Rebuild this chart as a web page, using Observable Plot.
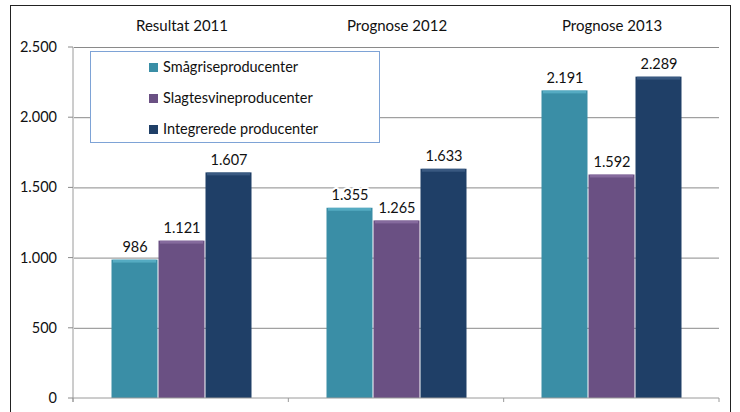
<!DOCTYPE html>
<html><head><meta charset="utf-8">
<script src="https://cdn.jsdelivr.net/npm/d3@7"></script>
<script src="https://cdn.jsdelivr.net/npm/@observablehq/plot@0.6"></script>
<style>
html,body{margin:0;padding:0;background:#fff;overflow:hidden;}
#wrap{position:relative;width:740px;height:412px;font-family:Lato,"Open Sans",sans-serif;}
#border{position:absolute;left:10px;top:5px;width:721px;height:420px;border:1px solid #222;box-sizing:border-box;}
#legend{position:absolute;left:90px;top:51px;width:290px;height:92px;border:1px solid #7ea3d6;box-sizing:border-box;background:#fff;}
.item{position:absolute;left:58px;font-size:14.5px;color:#111;display:flex;align-items:center;line-height:16px;}
.sw{width:9px;height:9px;margin-right:5px;display:inline-block;}
svg{position:absolute;left:0;top:0;}
</style></head>
<body><div id="wrap"><div id="border"></div></div>
<script>
const categories = ["Resultat 2011", "Prognose 2012", "Prognose 2013"];
const series = ["Smågriseproducenter", "Slagtesvineproducenter", "Integrerede producenter"];
const valuesSmaa = [986, 1355, 2191];
const valuesSlagt = [1121, 1265, 1592];
const valuesInteg = [1607, 1633, 2289];
const colors = ["#3a8ea6", "#6a5083", "#1f3f67"];
const highlights = ["#6cc3d8", "#9a80b3", "#4f6f98"];
const yTicks = [0, 500, 1000, 1500, 2000, 2500];

const allValues = [valuesSmaa, valuesSlagt, valuesInteg];
const data = [];
categories.forEach((c, i) => series.forEach((s, j) => data.push({cat: c, ser: s, v: allValues[j][i]})));

const loc = d3.formatLocale({decimal: ",", thousands: ".", grouping: [3], currency: ["", " kr"]});
const fmt = loc.format(",d");
const hl = d3.scaleOrdinal(series, highlights);

const plot = Plot.plot({
  width: 740, height: 412,
  marginLeft: 73, marginRight: 21, marginTop: 47, marginBottom: 14,
  style: {fontFamily: "Lato, 'Open Sans', sans-serif", fontSize: "14px", color: "#111", background: "transparent"},
  fx: {domain: categories, padding: 0, label: null},
  x: {domain: series, paddingInner: 0, paddingOuter: 0.74, axis: null},
  y: {domain: [0, 2500], axis: null},
  color: {domain: series, range: colors},
  marks: [
    Plot.ruleY(yTicks.filter(d => d > 0), {stroke: "#8a8a8a", strokeWidth: 1}),
    Plot.barY(data, {fx: "cat", x: "ser", y: "v", fill: "ser", insetLeft: 0.5, insetRight: 0.5}),
    Plot.barY(data, {fx: "cat", x: "ser", y1: "v", y2: "v", fill: d => hl(d.ser), fillOpacity: 0.55,
      insetLeft: 2, insetRight: 2, insetBottom: -3}),
    Plot.text(data, {fx: "cat", x: "ser", y: "v", text: d => fmt(d.v), lineAnchor: "bottom", dy: -8,
      fontSize: 14.5, fill: "#111", stroke: "white", strokeWidth: 4, paintOrder: "stroke"}),
    Plot.axisFx({anchor: "top", tickSize: 0, tickPadding: 17, fontSize: 15, fontWeight: "normal", label: null}),
  ]
});

const svg = d3.select(plot);
const y = plot.scale("y");
const fx = plot.scale("fx");
const g = svg.append("g");
const x0 = fx.range[0], x1 = fx.range[1];
const y0 = y.range[0], yTop = y.range[1];
g.append("line").attr("x1", x0).attr("x2", x0).attr("y1", yTop).attr("y2", y0 + 4).attr("stroke", "#9a9a9a");
g.append("line").attr("x1", x0).attr("x2", x1).attr("y1", y0).attr("y2", y0).attr("stroke", "#9a9a9a");
const step = (x1 - x0) / categories.length;
for (let i = 0; i <= categories.length; i++) {
  const xx = x0 + step * i;
  g.append("line").attr("x1", xx).attr("x2", xx).attr("y1", y0).attr("y2", y0 + 4).attr("stroke", "#9a9a9a");
}
const ys = d3.scaleLinear().domain(y.domain).range(y.range);
yTicks.forEach(t => {
  g.append("line").attr("x1", x0 - 5).attr("x2", x0).attr("y1", ys(t)).attr("y2", ys(t)).attr("stroke", "#8a8a8a");
  g.append("text").attr("x", x0 - 16).attr("y", ys(t)).attr("dy", "0.35em").attr("text-anchor", "end")
    .attr("font-size", 14.5).attr("fill", "#111").text(fmt(t));
});

document.getElementById("wrap").appendChild(plot);

const leg = document.createElement("div");
leg.id = "legend";
series.forEach((s, j) => {
  const it = document.createElement("div");
  it.className = "item";
  it.style.top = (7 + j * 31) + "px";
  it.innerHTML = `<span class="sw" style="background:${colors[j]}"></span>${s}`;
  leg.appendChild(it);
});
document.getElementById("wrap").appendChild(leg);
</script></body></html>
